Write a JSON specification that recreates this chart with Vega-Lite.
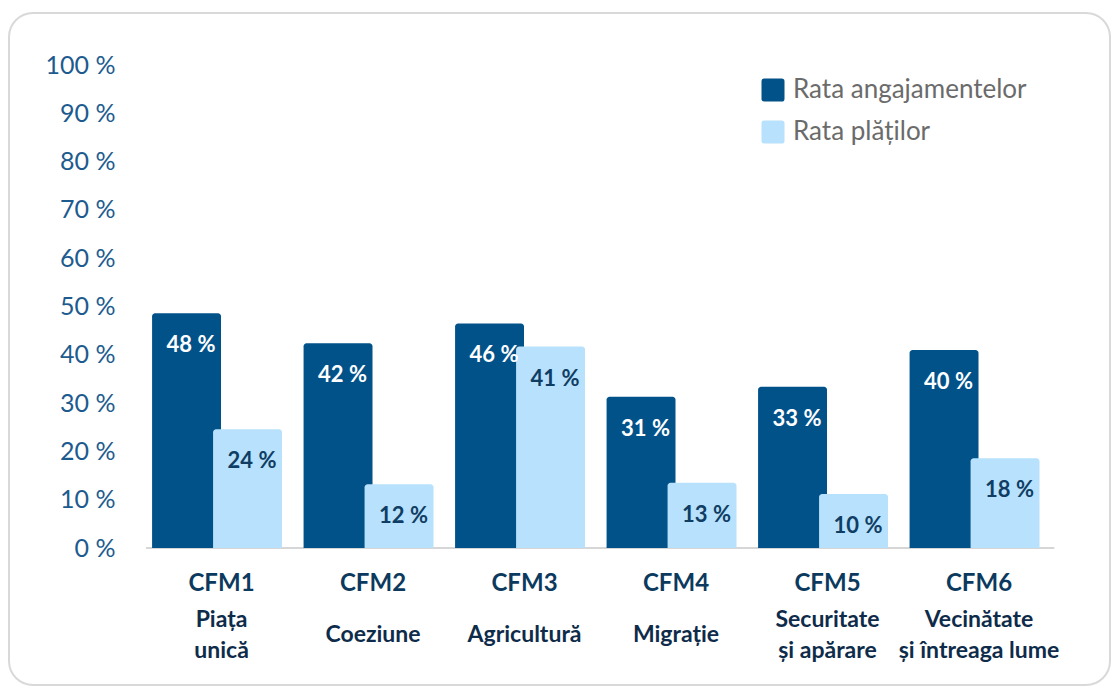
{
  "$schema": "https://vega.github.io/schema/vega-lite/v6.json",
  "autosize": {"type": "none"},
  "padding": {"left": 9, "top": 13, "right": 8, "bottom": 3},
  "width": 1101,
  "height": 672,
  "background": "white",
  "config": {
    "font": "Lato",
    "view": {"stroke": "#d9d9d9", "strokeWidth": 2, "cornerRadius": 24},
    "axis": {"grid": false, "domain": false, "ticks": false, "tickSize": 0, "labelPadding": 0, "title": null}
  },
  "data": {
    "values": [
      {"cat": "CFM1|Piața|unică", "series": "Rata angajamentelor", "value": 48.6, "label": "48 %"},
      {"cat": "CFM2|Coeziune", "series": "Rata angajamentelor", "value": 42.4, "label": "42 %"},
      {"cat": "CFM3|Agricultură", "series": "Rata angajamentelor", "value": 46.5, "label": "46 %"},
      {"cat": "CFM4|Migrație", "series": "Rata angajamentelor", "value": 31.3, "label": "31 %"},
      {"cat": "CFM5|Securitate|și apărare", "series": "Rata angajamentelor", "value": 33.4, "label": "33 %"},
      {"cat": "CFM6|Vecinătate|și întreaga lume", "series": "Rata angajamentelor", "value": 41.0, "label": "40 %"},
      {"cat": "CFM1|Piața|unică", "series": "Rata plăților", "value": 24.6, "label": "24 %"},
      {"cat": "CFM2|Coeziune", "series": "Rata plăților", "value": 13.2, "label": "12 %"},
      {"cat": "CFM3|Agricultură", "series": "Rata plăților", "value": 41.7, "label": "41 %"},
      {"cat": "CFM4|Migrație", "series": "Rata plăților", "value": 13.5, "label": "13 %"},
      {"cat": "CFM5|Securitate|și apărare", "series": "Rata plăților", "value": 11.2, "label": "10 %"},
      {"cat": "CFM6|Vecinătate|și întreaga lume", "series": "Rata plăților", "value": 18.6, "label": "18 %"}
    ]
  },
  "resolve": {"axis": {"x": "independent", "y": "independent"}},
  "layer": [
    {
      "mark": {"type": "rule", "color": "#d6d6d6", "strokeWidth": 2},
      "encoding": {
        "x": {"datum": "CFM1|Piața|unică", "type": "nominal", "bandPosition": -0.077, "axis": null},
        "x2": {"datum": "CFM6|Vecinătate|și întreaga lume", "bandPosition": 1.077},
        "y": {"datum": 0, "type": "quantitative", "axis": null}
      }
    },
    {
      "mark": {"type": "bar", "width": {"band": 1.13}, "cornerRadiusTopLeft": 3, "cornerRadiusTopRight": 3},
      "encoding": {
        "x": {
          "field": "cat", "type": "nominal", "sort": null,
          "scale": {
            "domain": ["CFM1|Piața|unică", "CFM2|Coeziune", "CFM3|Agricultură", "CFM4|Migrație", "CFM5|Securitate|și apărare", "CFM6|Vecinătate|și întreaga lume"],
            "paddingInner": 0.1419, "paddingOuter": 0.7046, "align": 0.691
          },
          "axis": {
            "orient": "bottom", "offset": -102, "labelAngle": 0,
            "labelExpr": "split(datum.value, '|')[0]",
            "labelFont": "Lato", "labelFontSize": 24, "labelFontWeight": "bold",
            "labelColor": "#0c3a5e", "labelBaseline": "middle", "labelOverlap": false, "labelLimit": 300
          }
        },
        "xOffset": {"field": "series", "type": "nominal", "sort": null, "scale": {"paddingInner": 0, "paddingOuter": 0.0656}},
        "y": {
          "field": "value", "type": "quantitative",
          "scale": {"domain": [-28.36, 110.77], "nice": false, "zero": false},
          "axis": {
            "orient": "left", "offset": -106, "values": [0, 10, 20, 30, 40, 50, 60, 70, 80, 90, 100],
            "labelExpr": "datum.value + ' %'", "labelFont": "Lato", "labelFontSize": 25,
            "labelColor": "#1d5b8f", "labelAlign": "right", "labelBaseline": "middle"
          }
        },
        "y2": {"datum": 0},
        "color": {
          "field": "series", "type": "nominal",
          "scale": {"domain": ["Rata angajamentelor", "Rata plăților"], "range": ["#02528a", "#b7e1fc"]},
          "legend": {
            "title": null, "orient": "none", "legendX": 751, "legendY": 64,
            "symbolType": "M -0.75 -1 L 0.75 -1 Q 1 -1 1 -0.75 L 1 0.75 Q 1 1 0.75 1 L -0.75 1 Q -1 1 -1 0.75 L -1 -0.75 Q -1 -1 -0.75 -1 Z",
            "symbolSize": 529, "symbolStrokeWidth": 0, "symbolOpacity": 1,
            "labelFont": "Lato", "labelFontSize": 26, "labelColor": "#6b6b6b",
            "labelOffset": 7, "rowPadding": 16, "labelLimit": 400
          }
        }
      }
    },
    {
      "transform": [{"filter": "datum.series == 'Rata angajamentelor'"}],
      "mark": {"type": "text", "color": "white", "font": "Lato", "fontSize": 22, "fontWeight": "bold", "baseline": "middle", "dy": 32},
      "encoding": {
        "x": {
          "field": "cat", "type": "nominal", "sort": null,
          "axis": {
            "orient": "bottom", "offset": -65.5, "labelAngle": 0,
            "labelExpr": "slice(split(datum.value, '|'), 1)",
            "labelPadding": {"condition": {"test": "length(split(datum.value, '|')) == 2", "value": 15}, "value": 0},
            "labelFont": "Lato", "labelFontSize": 23, "labelFontWeight": "bold",
            "labelColor": "#0e2c4a", "labelBaseline": "middle", "labelLineHeight": 31,
            "labelOverlap": false, "labelLimit": 300
          }
        },
        "xOffset": {"field": "series", "type": "nominal", "sort": null},
        "y": {"field": "value", "type": "quantitative", "axis": null},
        "text": {"field": "label"}
      }
    },
    {
      "transform": [{"filter": "datum.series == 'Rata plăților'"}],
      "mark": {"type": "text", "color": "#0f3d63", "font": "Lato", "fontSize": 22, "fontWeight": "bold", "baseline": "middle", "dy": 32},
      "encoding": {
        "x": {"field": "cat", "type": "nominal", "sort": null, "axis": null},
        "xOffset": {"field": "series", "type": "nominal", "sort": null},
        "y": {"field": "value", "type": "quantitative", "axis": null},
        "text": {"field": "label"}
      }
    }
  ]
}
